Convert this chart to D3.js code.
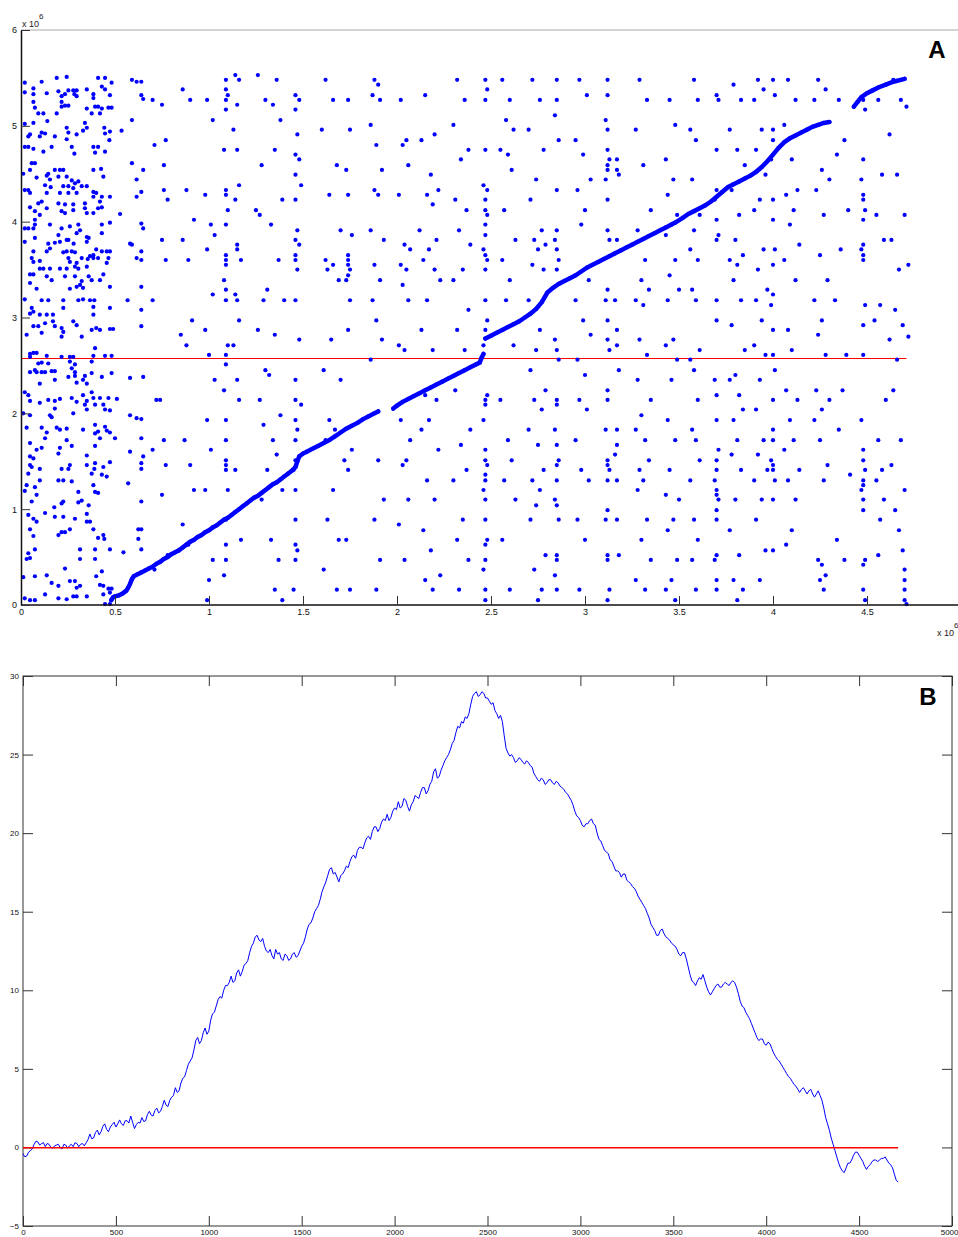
<!DOCTYPE html>
<html>
<head>
<meta charset="utf-8">
<script src="https://cdnjs.cloudflare.com/ajax/libs/d3/7.8.5/d3.min.js"></script>
<style>
  body { margin: 0; background: #fff; }
  svg { display: block; font-family: "Liberation Sans", Arial, sans-serif; }
  .tick text { fill: #111; }
</style>
</head>
<body>
<div id="chart"></div>
<script>
// ---------- Panel A data (units of 10^6) ----------
const xTicksA = [0, 0.5, 1, 1.5, 2, 2.5, 3, 3.5, 4, 4.5];
const yTicksA = [0, 1, 2, 3, 4, 5, 6];
const thresholdA = 2.578;
const thresholdSpanA = [0, 4.71];

// dense block on the left
const scatterLeft = [
  [.02,5.45],[.066,5.39],[.066,5.33],[.02,5.35],[.11,5.46],[.137,5.34],[.19,5.50],[.243,5.51],[.199,5.36],[.216,5.31],
  [.234,5.33],[.252,5.37],[.278,5.37],[.296,5.37],[.296,5.31],[.284,5.33],[.216,5.25],[.234,5.21],[.252,5.21],[.216,5.20],
  [.066,5.25],[.074,5.19],[.092,5.13],[.119,5.13],[.19,5.13],[.41,5.50],[.447,5.50],[.43,5.41],[.482,5.45],[.447,5.38],
  [.473,5.32],[.35,5.38],[.385,5.33],[.385,5.29],[.35,5.18],[.376,5.13],[.394,5.20],[.41,5.20],[.43,5.18],[.465,5.19],
  [.482,5.19],[.42,5.13],[.59,5.48],[.615,5.46],[.64,5.46],[.64,5.32],[.65,5.28],
  [.02,5.02],[.066,5.03],[.14,5.05],[.34,5.03],[.35,4.98],[.33,4.95],[.243,4.98],[.252,4.93],[.296,4.91],[.243,4.86],
  [.18,4.89],[.128,4.92],[.11,4.93],[.10,4.89],[.039,4.89],[.048,4.91],[.039,4.78],[.02,4.78],[.066,4.76],[.119,4.73],
  [.163,4.78],[.27,4.78],[.284,4.71],[.385,4.78],[.41,4.78],[.394,4.72],[.447,4.73],[.443,4.98],[.447,4.92],[.473,4.94],
  [.47,4.85],[.535,4.95],[.59,5.06],
  [.057,4.61],[.074,4.61],[.048,4.54],[.012,4.50],[.083,4.46],[.137,4.48],[.145,4.50],[.154,4.44],[.18,4.54],[.207,4.54],
  [.225,4.54],[.199,4.47],[.243,4.47],[.128,4.38],[.158,4.36],[.225,4.37],[.252,4.37],[.27,4.43],[.287,4.40],[.305,4.42],
  [.278,4.35],[.323,4.37],[.35,4.37],[.385,4.54],[.426,4.55],[.438,4.47],[.385,4.31],[.40,4.30],[.385,4.26],[.43,4.26],
  [.473,4.26],[.02,4.33],[.039,4.33],[.048,4.30],[.137,4.30],[.207,4.30],[.252,4.30],[.296,4.30],[.11,4.21],[.092,4.19],
  [.048,4.15],[.137,4.14],[.199,4.19],[.234,4.18],[.278,4.18],[.34,4.19],[.34,4.14],[.42,4.21],[.43,4.15],[.216,4.11],
  [.234,4.09],[.278,4.12],[.35,4.09],[.385,4.09],[.41,4.14],[.074,4.11],[.074,4.02],[.10,4.07],[.02,3.93],[.527,4.08],
  [.59,4.61],[.65,4.54],[.615,4.44],[.64,4.31],[.615,4.26],
  [.039,3.93],[.066,3.93],[.074,3.97],[.154,3.97],[.216,3.93],[.26,3.95],[.305,3.97],[.296,3.88],[.314,3.91],[.35,3.84],
  [.35,3.79],[.36,3.83],[.43,3.97],[.473,3.99],[.43,3.88],[.074,3.83],[.02,3.79],[.145,3.77],[.154,3.72],[.137,3.69],
  [.18,3.78],[.199,3.86],[.207,3.79],[.243,3.81],[.252,3.81],[.28,3.77],[.243,3.69],[.225,3.68],[.27,3.69],[.287,3.68],
  [.252,3.62],[.26,3.58],[.296,3.57],[.323,3.62],[.355,3.61],[.367,3.64],[.385,3.62],[.40,3.71],[.385,3.65],[.41,3.62],
  [.43,3.69],[.456,3.69],[.473,3.69],[.465,3.62],[.456,3.57],[.066,3.69],[.057,3.62],[.066,3.58],[.10,3.59],[.58,3.77],
  [.59,3.76],[.615,3.62],[.64,3.69],[.64,3.60],[.64,3.98],[.65,3.93],
  [.10,3.51],[.119,3.51],[.154,3.51],[.207,3.51],[.243,3.51],[.287,3.53],[.305,3.51],[.35,3.53],[.048,3.45],[.066,3.45],
  [.137,3.43],[.163,3.39],[.234,3.43],[.287,3.43],[.323,3.38],[.36,3.43],[.376,3.39],[.438,3.45],[.42,3.39],[.048,3.36],
  [.083,3.30],[.26,3.30],[.296,3.32],[.314,3.34],[.33,3.31],[.473,3.32],[.64,3.32],[.02,3.19],[.11,3.18],[.145,3.18],
  [.225,3.18],[.305,3.18],[.33,3.19],[.367,3.18],[.39,3.18],[.225,3.10],[.385,3.11],[.473,3.10],[.057,3.10],[.066,3.06],
  [.048,3.04],[.10,3.03],[.137,3.03],[.17,3.03],[.278,2.96],[.296,2.92],[.385,3.03],[.17,2.96],[.18,2.91],[.128,2.94],
  [.066,2.91],[.092,2.91],[.03,2.82],[.11,2.84],[.216,2.89],[.216,2.80],[.323,2.80],[.376,2.87],[.40,2.89],[.42,2.87],
  [.473,2.88],[.49,2.88],[.567,3.18],[.64,3.08],[.64,2.91],
  [.225,2.85],[.394,2.68],[.048,2.62],[.066,2.63],[.083,2.63],[.048,2.59],[.137,2.60],[.216,2.59],[.26,2.59],[.278,2.59],
  [.385,2.60],[.447,2.60],[.482,2.60],[.092,2.52],[.11,2.53],[.145,2.52],[.26,2.54],[.287,2.51],[.376,2.54],[.27,2.47],
  [.048,2.43],[.074,2.45],[.083,2.43],[.11,2.43],[.128,2.43],[.163,2.44],[.18,2.44],[.287,2.43],[.287,2.39],[.34,2.39],
  [.33,2.35],[.376,2.42],[.43,2.38],[.482,2.42],[.252,2.38],[.18,2.35],[.10,2.31],[.296,2.32],[.35,2.31],[.58,2.37],
  [.65,2.38],[.02,2.22],[.039,2.19],[.048,2.13],[.10,2.11],[.145,2.14],[.18,2.13],[.207,2.15],[.27,2.16],[.296,2.12],
  [.33,2.19],[.35,2.13],[.34,2.09],[.376,2.22],[.385,2.16],[.394,2.09],[.42,2.16],[.438,2.09],[.447,2.04],[.473,2.03],
  [.465,2.16],[.51,2.15],[.012,2.00],[.048,1.98],[.154,1.98],[.163,1.96],[.18,2.05],[.278,2.00],[.35,2.04],[.03,1.85],
  [.11,1.85],[.19,1.85],[.207,1.83],[.243,1.84],[.33,1.83],[.394,1.88],[.394,1.79],[.41,1.81],[.447,1.86],[.456,1.82],
  [.473,1.80],[.50,1.74],[.58,1.98],[.615,1.95],[.64,1.94],[.64,1.74],[.137,1.80],[.128,1.74],[.243,1.72],[.048,1.69],
  [.083,1.62],[.11,1.64],[.207,1.64],[.27,1.66],[.394,1.66],[.42,1.74],[.048,1.55],[.066,1.53],[.199,1.58],[.35,1.56],
  [.58,1.60],[.65,1.55],[.048,1.46],[.057,1.44],[.10,1.42],[.039,1.37],[.216,1.42],[.252,1.42],[.26,1.46],[.35,1.46],
  [.394,1.48],[.39,1.42],[.376,1.37],[.438,1.44],[.43,1.36],[.456,1.34],[.473,1.49],[.64,1.48],[.64,1.42],[.10,1.30],
  [.199,1.30],[.225,1.30],[.27,1.29],[.03,1.25],[.074,1.23],[.385,1.25],[.394,1.18],[.41,1.17],[.305,1.18],[.02,1.19],
  [.083,1.15],[.057,1.08],[.225,1.08],[.216,1.06],[.305,1.07],[.323,1.09],[.36,1.04],[.57,1.27],[.64,1.08],[.039,0.94],
  [.066,0.90],[.083,0.87],[.128,0.96],[.177,1.02],[.18,0.92],[.225,0.92],[.35,0.95],[.35,0.87],[.367,0.87],[.287,0.90],
  [.048,0.79],[.066,0.72],[.199,0.73],[.216,0.76],[.234,0.76],[.26,0.79],[.385,0.79],[.438,0.73],[.41,0.70],[.443,0.69],
  [.624,0.79],[.64,0.79],[.624,0.69],[.074,0.58],[.039,0.54],[.03,0.48],[.048,0.49],[.314,0.58],[.314,0.48],[.394,0.58],
  [.394,0.48],[.473,0.58],[.545,0.55],[.64,0.58],[.012,0.29],[.074,0.30],[.137,0.31],[.234,0.38],[.163,0.23],[.26,0.25],
  [.287,0.25],[.296,0.18],[.314,0.20],[.199,0.20],[.278,0.09],[.296,0.09],[.199,0.07],[.243,0.06],[.35,0.09],[.128,0.11],
  [.02,0.07],[.048,0.05],[.074,0.05],[.43,0.35],[.40,0.30],[.42,0.21],[.438,0.20],[.465,0.17],[.473,0.13],[.438,0.11],
  [.482,0.17],[.473,0.01],[.447,0.01]
];

// scattered columns over the rest of the plot
const scatterRight = [
  [0.70,5.27],[0.71,4.80],[0.70,3.18],[0.72,2.14],[0.70,1.62],[0.71,0.37],
  [0.75,5.22],[0.77,4.85],[0.76,4.59],[0.76,4.33],[0.78,4.23],[0.75,3.81],[0.77,3.60],[0.74,2.14],[0.76,1.72],[0.77,1.46],[0.75,1.15],[0.78,0.52],
  [0.86,5.38],[0.90,5.27],[0.88,4.33],[0.92,4.02],[0.86,3.81],[0.89,3.60],[0.91,2.97],[0.85,2.82],[0.88,2.71],[0.87,1.72],[0.90,1.46],[0.92,1.20],[0.86,0.84],[0.89,0.63],
  [0.99,5.27],[1.02,5.06],[0.98,4.28],[1.01,3.97],[1.03,3.86],[0.99,3.71],[1.02,3.24],[0.98,2.87],[1.00,2.61],[1.03,2.35],[0.99,1.93],[1.01,1.62],[0.98,1.20],[1.02,0.47],[1.00,0.26],[0.99,0.05],
  [1.09,5.48],[1.09,5.38],[1.10,5.32],[1.09,5.27],[1.09,5.17],[1.08,4.75],[1.09,4.33],[1.09,4.28],[1.10,4.12],[1.09,3.97],[1.09,3.65],[1.09,3.60],[1.09,3.55],[1.08,3.39],[1.09,3.29],
  [1.09,3.18],[1.10,2.71],[1.09,2.61],[1.09,2.51],[1.08,2.24],[1.09,1.93],[1.09,1.72],[1.09,1.51],[1.09,1.46],[1.09,1.41],[1.10,1.20],[1.09,0.89],[1.09,0.63],[1.09,0.47],[1.08,0.31],
  [1.14,5.53],[1.16,5.48],[1.15,5.22],[1.13,4.96],[1.15,4.75],[1.16,4.38],[1.14,4.23],[1.15,3.76],[1.15,3.71],[1.17,3.60],[1.14,3.24],[1.15,3.18],[1.16,2.97],[1.13,2.71],[1.15,2.35],[1.16,2.14],[1.14,1.41],[1.17,0.68],
  [1.26,5.53],[1.30,5.27],[1.28,4.59],[1.25,4.12],[1.27,4.07],[1.31,3.29],[1.29,3.18],[1.26,2.87],[1.30,2.45],[1.32,2.40],[1.27,2.14],[1.29,1.88],[1.31,1.41],[1.28,1.10],
  [1.36,5.48],[1.34,5.22],[1.38,5.06],[1.35,4.75],[1.39,4.23],[1.33,3.97],[1.37,3.60],[1.40,3.18],[1.35,2.82],[1.38,1.98],[1.34,1.72],[1.36,1.57],[1.39,1.20],[1.33,0.68],[1.37,0.47],[1.35,0.16],[1.39,0.05],
  [1.46,5.32],[1.48,5.27],[1.46,5.17],[1.47,4.91],[1.46,4.70],[1.48,4.65],[1.46,4.49],[1.49,4.38],[1.46,4.23],[1.47,3.91],[1.46,3.81],[1.48,3.76],[1.46,3.65],[1.46,3.60],[1.47,3.50],[1.46,3.18],
  [1.48,2.77],[1.46,2.35],[1.46,2.14],[1.49,2.09],[1.46,1.93],[1.47,1.83],[1.46,1.72],[1.46,1.51],[1.45,1.41],[1.46,1.20],[1.46,0.89],[1.46,0.63],[1.47,0.57],[1.46,0.47],[1.45,0.16],
  [1.62,5.48],[1.66,5.27],[1.60,4.96],[1.68,4.59],[1.64,4.28],[1.70,3.91],[1.62,3.60],[1.66,3.55],[1.63,3.50],[1.69,3.39],[1.65,2.77],[1.61,2.45],[1.70,2.35],[1.64,1.93],[1.67,1.83],[1.62,1.72],[1.72,1.51],[1.66,1.20],[1.63,0.89],[1.69,0.68],[1.61,0.37],[1.68,0.16],
  [1.74,5.27],[1.75,4.96],[1.73,4.54],[1.74,4.28],[1.76,3.86],[1.74,3.65],[1.74,3.60],[1.74,3.55],[1.75,3.50],[1.74,3.44],[1.73,3.39],[1.75,3.18],[1.74,2.87],[1.76,1.62],[1.74,1.41],[1.73,0.68],[1.75,0.16],
  [1.88,5.48],[1.90,5.43],[1.87,5.32],[1.91,5.27],[1.86,5.01],[1.89,4.80],[1.92,4.54],[1.88,4.33],[1.90,4.28],[1.86,3.91],[1.93,3.81],[1.88,3.55],[1.91,3.39],[1.87,3.18],[1.89,2.97],[1.92,2.77],[1.86,2.56],[1.90,1.51],[1.93,1.10],[1.88,0.89],[1.91,0.47],[1.89,0.16],
  [2.02,5.27],[2.05,4.85],[2.03,4.80],[2.06,4.59],[2.01,4.28],[2.04,3.76],[2.07,3.71],[2.02,3.55],[2.05,3.50],[2.03,3.34],[2.06,3.18],[2.01,2.71],[2.04,2.66],[2.07,1.72],[2.02,1.93],[2.05,1.51],[2.03,1.46],[2.06,1.10],[2.01,0.84],[2.04,0.47],
  [2.15,5.32],[2.20,4.91],[2.13,4.85],[2.18,4.49],[2.22,4.33],[2.16,4.28],[2.19,4.18],[2.12,3.91],[2.21,3.81],[2.17,3.71],[2.14,3.60],[2.20,3.50],[2.23,3.39],[2.16,3.18],[2.13,2.87],[2.19,2.66],
  [2.15,2.19],[2.21,2.14],[2.17,1.93],[2.13,1.83],[2.22,1.62],[2.16,1.30],[2.20,1.10],[2.14,0.78],[2.18,0.57],[2.23,0.31],[2.15,0.26],[2.19,0.16],
  [2.32,5.48],[2.36,5.27],[2.30,5.01],[2.38,4.75],[2.34,4.65],[2.31,4.23],[2.37,4.12],[2.33,3.91],[2.39,3.76],[2.35,3.50],[2.30,3.39],[2.38,3.08],[2.32,2.87],[2.36,2.66],[2.31,2.24],[2.39,1.83],[2.34,1.67],[2.37,1.41],[2.30,1.30],[2.35,0.89],[2.32,0.68],[2.38,0.47],[2.33,0.16],
  [2.47,5.48],[2.48,5.38],[2.47,5.27],[2.47,4.75],[2.46,4.38],[2.48,4.33],[2.47,4.23],[2.47,4.12],[2.48,4.07],[2.47,3.97],[2.47,3.86],[2.46,3.71],[2.47,3.65],[2.48,3.60],[2.47,3.50],[2.47,3.18],[2.48,2.97],[2.47,2.87],[2.46,2.71],
  [2.48,2.19],[2.47,2.14],[2.47,2.09],[2.46,1.93],[2.47,1.62],[2.47,1.51],[2.48,1.46],[2.47,1.36],[2.47,1.30],[2.46,1.20],[2.47,1.10],[2.47,0.89],[2.48,0.68],[2.47,0.63],[2.47,0.47],[2.46,0.37],[2.47,0.16],[2.47,0.05],
  [2.56,5.48],[2.60,5.27],[2.58,5.06],[2.62,4.96],[2.55,4.75],[2.59,4.70],[2.61,4.54],[2.57,4.12],[2.63,3.81],[2.56,3.60],[2.60,3.39],[2.58,3.18],[2.62,2.71],[2.55,2.14],[2.59,1.72],[2.61,1.51],[2.57,1.30],[2.63,1.10],[2.56,0.68],[2.60,0.16],
  [2.72,5.48],[2.76,5.27],[2.70,4.96],[2.78,4.75],[2.74,4.44],[2.71,4.23],[2.77,3.91],[2.73,3.81],[2.79,3.76],[2.75,3.71],[2.72,3.55],[2.78,3.50],[2.70,3.18],[2.76,2.87],[2.74,2.66],[2.71,2.45],[2.79,2.24],[2.73,2.14],[2.77,2.04],
  [2.70,1.83],[2.75,1.67],[2.78,1.41],[2.72,1.30],[2.76,1.20],[2.74,1.04],[2.71,0.89],[2.79,0.52],[2.73,0.37],[2.77,0.16],[2.75,0.05],
  [2.85,5.48],[2.85,5.27],[2.84,5.11],[2.86,4.85],[2.85,4.33],[2.85,3.91],[2.84,3.81],[2.85,3.71],[2.86,3.60],[2.85,3.50],[2.84,2.77],[2.85,2.66],[2.86,2.56],[2.85,2.14],[2.85,2.09],[2.84,1.83],[2.85,1.67],[2.86,1.51],
  [2.85,1.46],[2.85,1.30],[2.84,1.10],[2.85,1.04],[2.86,0.89],[2.85,0.52],[2.85,0.47],[2.84,0.31],[2.85,0.16],
  [2.97,5.48],[3.01,5.32],[2.95,4.85],[2.99,4.70],[3.03,4.44],[2.96,4.33],[3.00,4.12],[2.98,3.97],[3.02,3.39],[2.95,3.18],[2.99,2.97],[3.03,2.82],[2.96,2.56],[3.00,2.40],[2.97,2.14],[3.01,2.04],[2.95,1.72],[2.98,1.41],[3.02,1.30],[2.96,0.89],[3.00,0.68],[2.97,0.16],
  [3.12,5.48],[3.12,5.32],[3.11,5.06],[3.12,4.96],[3.12,4.75],[3.13,4.65],[3.12,4.59],[3.12,4.54],[3.11,4.44],[3.12,4.23],[3.12,3.91],[3.13,3.81],[3.12,3.29],[3.11,3.18],[3.12,2.97],[3.12,2.77],[3.13,2.66],
  [3.12,2.24],[3.12,2.14],[3.11,1.83],[3.12,1.51],[3.12,1.46],[3.13,1.41],[3.12,1.30],[3.12,0.99],[3.11,0.89],[3.12,0.52],[3.12,0.47],[3.13,0.16],[3.12,0.05],
  [3.17,4.65],[3.17,4.54],[3.18,4.49],[3.17,3.81],[3.16,3.18],[3.17,2.87],[3.17,2.71],[3.18,2.45],[3.17,1.83],[3.17,1.67],[3.16,1.57],[3.17,1.30],[3.17,0.89],[3.18,0.52],
  [3.29,5.48],[3.33,5.27],[3.27,4.96],[3.31,4.59],[3.35,4.12],[3.28,3.91],[3.32,3.60],[3.30,3.39],[3.34,3.29],[3.27,3.18],[3.31,3.13],[3.29,2.77],[3.33,2.61],[3.28,2.35],[3.35,2.14],[3.30,1.98],[3.27,1.83],[3.32,1.72],
  [3.34,1.51],[3.29,1.41],[3.31,1.30],[3.28,1.20],[3.33,0.89],[3.30,0.68],[3.35,0.47],[3.27,0.26],[3.32,0.16],
  [3.45,5.27],[3.48,5.01],[3.43,4.65],[3.47,4.44],[3.44,4.28],[3.49,4.07],[3.46,3.97],[3.43,3.86],[3.48,3.60],[3.45,3.44],[3.50,3.29],[3.44,3.18],[3.47,2.77],[3.43,2.71],[3.49,2.56],[3.46,2.35],[3.44,1.93],[3.48,1.72],
  [3.45,1.41],[3.43,1.15],[3.50,1.10],[3.47,0.89],[3.44,0.78],[3.49,0.47],[3.46,0.26],[3.43,0.16],[3.48,0.05],
  [3.58,5.48],[3.60,5.27],[3.56,4.96],[3.59,4.85],[3.57,4.44],[3.61,4.07],[3.58,3.91],[3.56,3.71],[3.60,3.60],[3.57,3.29],[3.59,3.18],[3.61,2.66],[3.56,2.56],[3.58,2.45],[3.60,2.14],[3.57,1.83],[3.59,1.72],[3.61,1.51],
  [3.56,1.30],[3.58,0.89],[3.60,0.68],[3.57,0.47],[3.59,0.16],
  [3.70,5.32],[3.71,5.27],[3.70,4.75],[3.70,4.33],[3.69,4.23],[3.70,4.02],[3.71,3.86],[3.70,3.81],[3.70,3.18],[3.70,2.97],[3.69,2.35],[3.70,2.19],[3.70,1.93],[3.71,1.62],[3.70,1.51],[3.70,1.41],[3.69,1.30],
  [3.70,1.20],[3.70,1.15],[3.71,1.10],[3.70,0.99],[3.70,0.89],[3.70,0.52],[3.69,0.47],[3.70,0.26],[3.70,0.16],
  [3.79,5.43],[3.83,5.27],[3.77,4.96],[3.81,4.75],[3.85,4.59],[3.78,4.33],[3.82,4.07],[3.80,3.81],[3.84,3.65],[3.77,3.60],[3.81,3.55],[3.79,3.39],[3.83,3.18],[3.78,2.92],[3.85,2.66],[3.80,2.40],[3.77,2.35],[3.82,2.19],
  [3.84,2.04],[3.79,1.93],[3.81,1.72],[3.78,1.57],[3.83,1.41],[3.80,1.10],[3.77,0.78],[3.82,0.52],[3.79,0.26],[3.84,0.16],[3.81,0.05],
  [3.92,5.48],[3.95,5.38],[3.90,5.27],[3.94,4.96],[3.91,4.75],[3.96,4.49],[3.93,4.23],[3.90,4.12],[3.95,3.71],[3.92,3.50],[3.97,3.29],[3.91,3.18],[3.94,2.97],[3.90,2.71],[3.96,2.61],[3.93,2.35],[3.91,2.04],[3.95,1.72],
  [3.92,1.57],[3.97,1.41],[3.90,1.30],[3.94,1.10],[3.91,0.89],[3.96,0.57],[3.93,0.26],
  [4.00,5.48],[4.01,5.32],[4.00,4.96],[4.00,4.85],[3.99,4.65],[4.00,4.23],[4.00,4.02],[4.01,3.71],[4.00,3.55],[4.00,3.24],[3.99,3.13],[4.00,2.87],[4.00,2.61],[4.01,2.45],[4.00,2.14],[4.00,1.83],[4.00,1.72],[3.99,1.51],
  [4.00,1.46],[4.00,1.41],[4.01,1.30],[4.00,1.10],[4.00,0.57],
  [4.08,5.48],[4.12,5.27],[4.06,5.01],[4.10,4.65],[4.13,4.33],[4.07,4.28],[4.11,4.12],[4.09,3.97],[4.14,3.76],[4.06,3.60],[4.12,3.39],[4.08,2.87],[4.10,2.66],[4.07,2.24],[4.13,2.14],[4.09,1.93],[4.11,1.72],[4.06,1.62],
  [4.14,1.41],[4.08,1.30],[4.12,1.10],[4.10,0.78],[4.07,0.63],
  [4.24,5.48],[4.28,5.38],[4.22,5.27],[4.26,4.54],[4.30,4.44],[4.23,4.33],[4.27,4.07],[4.25,3.65],[4.29,3.39],[4.22,3.18],[4.26,2.97],[4.24,2.82],[4.28,2.61],[4.23,2.24],[4.30,2.14],[4.26,2.04],[4.22,1.93],[4.25,1.72],
  [4.29,1.46],[4.27,1.30],[4.24,0.47],[4.26,0.42],[4.28,0.31],[4.25,0.26],[4.27,0.16],
  [4.35,5.27],[4.38,4.85],[4.34,4.70],[4.40,4.12],[4.36,3.71],[4.33,3.18],[4.39,2.61],[4.37,2.24],[4.35,1.83],[4.41,1.36],[4.34,0.68],[4.38,0.47],
  [4.48,5.27],[4.49,5.17],[4.48,4.65],[4.47,4.44],[4.48,4.28],[4.48,4.23],[4.49,4.12],[4.48,4.02],[4.48,3.76],[4.47,3.71],[4.48,3.65],[4.48,3.60],[4.49,3.13],[4.48,2.92],[4.48,2.61],[4.47,1.93],[4.48,1.62],[4.48,1.51],
  [4.49,1.41],[4.48,1.30],[4.48,1.25],[4.47,1.20],[4.48,1.10],[4.48,0.99],[4.49,0.47],[4.48,0.42],[4.48,0.16],[4.49,0.05],
  [4.56,5.27],[4.58,4.49],[4.55,4.07],[4.59,3.81],[4.57,3.13],[4.54,2.97],[4.60,2.14],[4.56,1.72],[4.58,1.41],[4.55,1.30],[4.59,1.10],[4.57,0.89],[4.56,0.52],
  [4.64,5.48],[4.68,5.27],[4.62,4.91],[4.66,4.49],[4.70,4.07],[4.63,3.81],[4.67,3.50],[4.65,3.08],[4.69,2.92],[4.62,2.77],[4.66,2.56],[4.64,2.24],[4.68,1.72],[4.63,1.46],[4.70,1.20],[4.65,0.99],[4.67,0.78],[4.69,0.57],
  [4.70,0.37],[4.70,0.26],[4.70,0.16],[4.70,0.05],[4.71,0.01],[4.71,5.20],[4.72,3.55],[4.72,2.80]
];

// the dense diagonal band
const diagonal = [
  [0.48,0.05],[0.49,0.08],[0.50,0.09],[0.52,0.10],[0.54,0.12],[0.56,0.15],[0.57,0.18],[0.58,0.22],[0.59,0.27],[0.60,0.30],
  [0.62,0.32],[0.64,0.34],[0.66,0.36],[0.68,0.38],[0.70,0.40],[0.72,0.43],[0.74,0.45],[0.76,0.48],[0.78,0.50],[0.80,0.53],
  [0.82,0.55],[0.84,0.57],[0.86,0.60],[0.88,0.63],[0.90,0.66],[0.92,0.68],[0.94,0.71],[0.96,0.73],[0.98,0.76],[1.00,0.78],
  [1.02,0.81],[1.04,0.83],[1.06,0.86],[1.08,0.89],[1.10,0.91],[1.12,0.94],[1.14,0.97],[1.16,1.00],[1.18,1.03],[1.20,1.06],
  [1.22,1.09],[1.24,1.12],[1.26,1.14],[1.28,1.17],[1.30,1.20],[1.32,1.23],[1.34,1.26],[1.36,1.28],[1.38,1.31],[1.40,1.34],
  [1.42,1.37],[1.44,1.40],[1.46,1.44],[1.47,1.50],[1.48,1.55],[1.50,1.58],[1.52,1.60],[1.55,1.63],[1.58,1.66],[1.61,1.69],
  [1.64,1.72],[1.67,1.76],[1.70,1.80],[1.73,1.84],[1.76,1.87],[1.79,1.90],[1.82,1.94],[1.85,1.97],[1.88,2.00],[1.90,2.02],
  [1.98,2.05],[2.00,2.08],[2.03,2.12],[2.06,2.15],[2.09,2.18],[2.12,2.21],[2.15,2.24],[2.18,2.27],[2.21,2.30],[2.24,2.33],
  [2.27,2.36],[2.30,2.39],[2.33,2.42],[2.36,2.45],[2.39,2.48],[2.42,2.51],[2.44,2.53],[2.45,2.58],[2.46,2.62],
  [2.47,2.78],[2.50,2.81],[2.53,2.84],[2.56,2.87],[2.59,2.90],[2.62,2.93],[2.65,2.96],[2.68,3.00],[2.71,3.04],[2.74,3.09],
  [2.77,3.16],[2.80,3.26],[2.83,3.31],[2.86,3.35],[2.89,3.38],[2.92,3.41],[2.95,3.44],[2.98,3.48],[3.01,3.52],[3.04,3.55],
  [3.07,3.58],[3.10,3.61],[3.13,3.64],[3.16,3.67],[3.19,3.70],[3.22,3.73],[3.25,3.76],[3.28,3.79],[3.31,3.82],[3.34,3.85],
  [3.37,3.88],[3.40,3.91],[3.43,3.94],[3.46,3.97],[3.48,3.99],
  [3.52,4.04],[3.55,4.08],[3.58,4.11],[3.61,4.14],[3.64,4.17],[3.67,4.21],[3.70,4.26],[3.73,4.31],[3.76,4.36],[3.79,4.39],
  [3.82,4.42],[3.85,4.45],[3.88,4.48],[3.91,4.52],[3.94,4.57],[3.97,4.63],[4.00,4.70],[4.03,4.77],[4.06,4.83],[4.09,4.87],
  [4.12,4.90],[4.15,4.93],[4.18,4.96],[4.21,4.99],[4.24,5.01],[4.27,5.03],[4.30,5.04],
  [4.43,5.20],[4.45,5.25],[4.47,5.30],[4.50,5.34],[4.53,5.37],[4.56,5.40],[4.60,5.43],[4.64,5.46],[4.68,5.48],[4.70,5.49]
];

// ---------- Panel B data ----------
const xTicksB = [0, 500, 1000, 1500, 2000, 2500, 3000, 3500, 4000, 4500, 5000];
const yTicksB = [-5, 0, 5, 10, 15, 20, 25, 30];
const stepB = 10; // sample spacing along x
const seriesB = [
  -0.4,-0.6,-0.55,-0.3,-0.2,-0.1,0.2,0.4,0.35,0.15,0.25,0.3,0.05,0.25,0.2,0.0,-0.05,0.1,0.15,0.2,
  0.0,-0.1,0.2,0.15,-0.05,0.1,0.2,0.05,0.3,0.25,0.05,0.2,0.25,0.1,0.3,0.5,0.85,0.55,0.6,0.95,
  1.1,0.8,1.0,1.35,1.5,1.15,1.0,1.3,1.45,1.6,1.3,1.5,1.75,1.5,1.4,1.7,1.7,1.55,2.0,1.6,
  1.2,1.45,1.6,1.55,1.9,1.65,1.7,2.1,2.3,2.05,2.0,2.35,2.5,2.2,2.3,2.6,3.0,2.7,2.6,3.0,
  3.2,3.3,3.8,3.5,3.6,4.1,4.4,4.5,4.9,5.3,5.5,5.7,6.2,6.8,7.0,6.6,6.8,7.3,7.6,7.2,
  7.4,8.1,8.5,8.6,9.0,9.4,9.6,9.5,10.0,10.3,10.3,10.5,10.9,10.5,10.6,11.1,11.3,10.9,11.2,11.6,
  11.7,11.9,12.4,12.8,13.0,13.4,13.5,13.2,13.1,13.3,12.8,12.5,12.4,12.6,12.2,12.0,12.6,12.3,12.4,12.0,
  11.9,12.3,12.2,11.9,12.0,12.3,12.4,12.1,12.2,12.5,12.8,13.0,13.4,13.9,14.2,14.3,14.6,15.0,15.2,15.4,
  15.8,16.3,16.6,16.9,17.3,17.7,17.8,17.4,17.5,17.2,16.9,17.3,17.4,17.6,17.9,17.8,18.2,18.5,18.6,18.4,
  18.9,19.1,19.1,19.0,19.4,19.7,19.8,19.6,20.1,20.4,20.4,20.1,20.3,20.7,20.9,20.8,21.2,20.8,21.0,21.4,
  21.6,21.5,22.0,21.6,21.7,22.2,22.1,21.7,21.4,21.8,22.0,22.4,22.3,22.2,22.6,22.9,22.9,22.5,22.7,23.1,
  23.3,23.9,24.1,23.5,23.6,24.0,24.3,24.6,24.8,25.0,25.3,25.7,25.9,26.4,26.8,26.7,27.1,27.0,27.4,27.3,
  27.6,28.2,28.7,28.9,29.0,28.7,28.8,29.0,28.9,28.6,28.6,28.4,28.2,28.3,27.8,27.6,27.3,27.5,27.1,26.2,
  25.4,25.1,24.9,25.0,24.8,24.5,24.6,24.8,24.7,24.5,24.4,24.6,24.5,24.3,24.2,23.8,23.6,23.4,23.3,23.5,
  23.4,23.1,23.2,23.4,23.4,23.2,23.1,23.3,23.2,23.0,22.9,22.8,22.6,22.5,22.3,22.1,21.8,21.4,21.1,21.0,
  20.8,20.5,20.4,20.6,20.6,20.8,20.9,20.6,20.5,20.0,19.6,19.5,19.2,18.9,18.8,18.7,18.3,18.2,17.9,17.6,
  17.6,17.5,17.2,17.4,17.4,17.0,16.9,16.8,16.6,16.5,16.3,16.0,15.8,15.6,15.4,15.2,14.9,14.6,14.2,14.0,
  13.8,13.5,13.5,13.8,13.9,13.6,13.4,13.3,13.2,13.0,12.9,12.8,12.6,12.3,12.2,12.4,12.4,12.0,11.5,11.0,
  10.6,10.5,10.3,10.6,10.8,10.7,11.0,10.6,10.2,9.9,9.7,9.9,10.1,10.3,10.4,10.2,10.2,10.4,10.5,10.4,
  10.3,10.5,10.6,10.5,10.2,9.8,9.3,9.0,8.9,8.6,8.4,8.2,7.9,7.6,7.3,7.0,6.8,6.9,6.9,6.6,
  6.5,6.7,6.6,6.3,6.0,5.8,5.6,5.5,5.3,5.1,4.9,4.7,4.5,4.4,4.2,4.0,3.9,3.7,3.5,3.7,
  3.8,3.6,3.4,3.6,3.7,3.4,3.2,3.4,3.6,3.3,3.0,2.5,1.9,1.5,1.1,0.6,0.2,-0.2,-0.6,-1.0,
  -1.3,-1.5,-1.6,-1.3,-1.0,-1.0,-0.8,-0.5,-0.3,-0.3,-0.5,-0.7,-0.9,-1.2,-1.4,-1.2,-1.1,-0.9,-0.8,-0.8,
  -0.9,-0.8,-0.7,-0.7,-0.6,-0.8,-1.0,-1.1,-1.3,-1.7,-2.1,-2.2
];
const thresholdB = 0;
const thresholdSpanB = [0, 4710];

// ---------- layout ----------
const W = 958, H = 1237;
const svg = d3.select("#chart").append("svg").attr("width", W).attr("height", H);

const blue = "#0000ff";
const red = "#ff0000";

// ================= Panel A =================
const xA = d3.scaleLinear().domain([0, 5]).range([21, 961]);
const yA = d3.scaleLinear().domain([0, 6]).range([605, 30]);

const gA = svg.append("g");

// top border (light)
gA.append("line")
  .attr("x1", xA(0)).attr("x2", W)
  .attr("y1", yA(6)).attr("y2", yA(6))
  .attr("stroke", "#c4c4c4").attr("stroke-width", 1.5);

// threshold, as a thin filled bar
gA.append("rect")
  .attr("x", xA(thresholdSpanA[0]))
  .attr("width", xA(thresholdSpanA[1]) - xA(thresholdSpanA[0]))
  .attr("y", Math.round(yA(thresholdA)))
  .attr("height", 1)
  .attr("fill", red);

// diagonal band, broken where the points jump
const segs = [];
diagonal.forEach((d, i) => {
  const prev = diagonal[i - 1];
  if (!prev || d[0] - prev[0] > 0.05 || d[1] - prev[1] > 0.1) segs.push([]);
  segs[segs.length - 1].push(d);
});
const diagLine = d3.line().x(d => xA(d[0])).y(d => yA(d[1]));
gA.selectAll(".diag")
  .data(segs)
  .enter()
  .append("path")
  .attr("class", "diag")
  .attr("fill", "none")
  .attr("stroke", blue)
  .attr("stroke-width", 4.5)
  .attr("stroke-linecap", "round")
  .attr("d", diagLine);

gA.selectAll(".pt")
  .data(scatterLeft.concat(scatterRight, diagonal))
  .enter()
  .append("circle")
  .attr("class", "pt")
  .attr("cx", d => xA(d[0]))
  .attr("cy", d => yA(d[1]))
  .attr("r", 2.1)
  .attr("fill", blue);

// axes
gA.append("g")
  .attr("transform", `translate(0,${yA(0)})`)
  .call(d3.axisBottom(xA).tickValues(xTicksA).tickFormat(d3.format("~g")).tickSizeInner(-9).tickSizeOuter(0).tickPadding(4))
  .call(g => g.select(".domain").attr("stroke", "#111").attr("stroke-width", 1.5).attr("d", `M${xA(0)},0H${W}`))
  .call(g => g.selectAll(".tick line").attr("stroke", "#333"))
  .call(g => g.selectAll("text").style("font-size", "9px"));

gA.append("g")
  .attr("transform", `translate(${xA(0)},0)`)
  .call(d3.axisLeft(yA).tickValues(yTicksA).tickFormat(d3.format("~g")).tickSizeInner(-9).tickSizeOuter(0).tickPadding(4))
  .call(g => g.select(".domain").attr("stroke", "#111").attr("stroke-width", 1.5))
  .call(g => g.selectAll(".tick line").attr("stroke", "#333"))
  .call(g => g.selectAll("text").style("font-size", "9px"));

// exponent labels
const expA1 = gA.append("text").attr("x", 22).attr("y", 27).style("font-size", "9px").attr("fill", "#222");
expA1.append("tspan").text("x 10");
expA1.append("tspan").attr("dy", -8).style("font-size", "8px").text("6");
const expA2 = gA.append("text").attr("x", 937).attr("y", 636).style("font-size", "9px").attr("fill", "#222");
expA2.append("tspan").text("x 10");
expA2.append("tspan").attr("dy", -8).style("font-size", "8px").text("6");

gA.append("text")
  .attr("x", 937).attr("y", 58)
  .attr("text-anchor", "middle")
  .style("font-size", "24px").style("font-weight", "bold")
  .text("A");

// ================= Panel B =================
const xB = d3.scaleLinear().domain([0, 5000]).range([23, 952]);
const yB = d3.scaleLinear().domain([-5, 30]).range([1226, 676]);

const gB = svg.append("g");

gB.append("rect")
  .attr("x", xB(0)).attr("y", yB(30))
  .attr("width", xB(5000) - xB(0)).attr("height", yB(-5) - yB(30))
  .attr("fill", "none").attr("stroke", "#333").attr("stroke-width", 1);

const axisStyle = g => {
  g.select(".domain").remove();
  g.selectAll(".tick line").attr("stroke", "#333");
  g.selectAll("text").style("font-size", "8px");
};

gB.append("g")
  .attr("transform", `translate(0,${yB(-5)})`)
  .call(d3.axisBottom(xB).tickValues(xTicksB).tickFormat(d3.format("")).tickSizeInner(-10).tickSizeOuter(0).tickPadding(3))
  .call(axisStyle)
  .call(g => g.selectAll(".tick text").filter(d => d === 5000).attr("text-anchor", "end").attr("x", 6));
gB.append("g")
  .attr("transform", `translate(0,${yB(30)})`)
  .call(d3.axisTop(xB).tickValues(xTicksB).tickFormat("").tickSizeInner(-10).tickSizeOuter(0))
  .call(axisStyle);
gB.append("g")
  .attr("transform", `translate(${xB(0)},0)`)
  .call(d3.axisLeft(yB).tickValues(yTicksB).tickSizeInner(-10).tickSizeOuter(0).tickPadding(4))
  .call(axisStyle);
gB.append("g")
  .attr("transform", `translate(${xB(5000)},0)`)
  .call(d3.axisRight(yB).tickValues(yTicksB).tickFormat("").tickSizeInner(-10).tickSizeOuter(0))
  .call(axisStyle);

const lineB = d3.line()
  .x((d, i) => xB(i * stepB))
  .y(d => yB(d));

gB.append("path")
  .datum(seriesB)
  .attr("fill", "none")
  .attr("stroke", blue)
  .attr("stroke-width", 1)
  .attr("d", lineB);

// zero line, a thin filled bar like panel A's threshold
gB.append("rect")
  .attr("x", xB(thresholdSpanB[0]))
  .attr("width", xB(thresholdSpanB[1]) - xB(thresholdSpanB[0]))
  .attr("y", Math.round(yB(thresholdB)))
  .attr("height", 1.5)
  .attr("fill", red);

gB.append("text")
  .attr("x", 928).attr("y", 705)
  .attr("text-anchor", "middle")
  .style("font-size", "24px").style("font-weight", "bold")
  .text("B");
</script>
</body>
</html>
